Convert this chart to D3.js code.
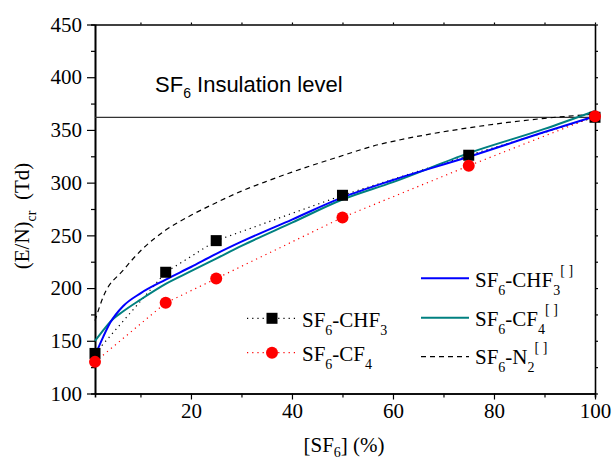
<!DOCTYPE html>
<html>
<head>
<meta charset="utf-8">
<script src="https://cdn.jsdelivr.net/npm/d3@7"></script>
<style>
  body { margin: 0; background: #fff; }
  svg { display: block; }
  text { font-family: "Liberation Serif", "Times New Roman", serif; fill: #000; }
</style>
</head>
<body>
<div id="chart"></div>
<script>
// measured points (symbols)
const measuredX = [1, 15, 25, 50, 75, 100];
const chf3Measured = [138, 215, 245, 288, 326, 362];
const cf4Measured = [130, 186, 209, 267, 316, 363];

// reference curves
const refX = [1, 2.65, 4, 6.6, 10, 15, 20, 25, 30, 40, 50, 60, 75, 90, 100];
const chf3Ref = [136, 154, 167, 183, 195, 208, 220, 232.5, 244, 265, 286, 302.5, 324.5, 348, 363];
const cf4Ref = [150, 160, 168, 178, 189, 204, 216, 228, 240, 262, 284, 300.5, 328, 351, 368];
const n2X = [1, 2.65, 6.6, 10.6, 15, 20, 25, 30, 35.7, 40, 48.6, 57.5, 61.5, 75, 90, 100];
const n2Ref = [169, 192, 217, 238, 255, 269, 281, 292, 302.5, 310, 323.5, 336.5, 340.7, 352, 361, 365];

const insulationLevel = 362;
const xTicks = [20, 40, 60, 80, 100];
const yTicks = [100, 150, 200, 250, 300, 350, 400, 450];

const width = 612, height = 460;
const margin = { top: 24.5, right: 17, bottom: 66.5, left: 95 };

const svg = d3.select("#chart").append("svg")
  .attr("width", width)
  .attr("height", height);

const x = d3.scaleLinear().domain([1, 100]).range([margin.left, width - margin.right]);
const y = d3.scaleLinear().domain([100, 450]).range([height - margin.bottom, margin.top]);

const x0 = x.range()[0], x1 = x.range()[1];
const y0 = y.range()[0], y1 = y.range()[1];

// minor ticks
const xMinor = d3.range(10, 100, 20);
const yMinor = d3.range(125, 450, 50);

// bottom axis
const bottomAxis = svg.append("g").attr("transform", `translate(0,${y0})`);
bottomAxis.call(d3.axisBottom(x).tickValues(xTicks).tickSize(6).tickPadding(4).tickSizeOuter(0));
bottomAxis.append("g").call(d3.axisBottom(x).tickValues(xMinor).tickSize(4).tickFormat(""));

// left axis
const leftAxis = svg.append("g").attr("transform", `translate(${x0},0)`);
leftAxis.call(d3.axisLeft(y).tickValues(yTicks).tickSize(8).tickPadding(5).tickSizeOuter(0));
leftAxis.append("g").call(d3.axisLeft(y).tickValues(yMinor).tickSize(4).tickFormat(""));

// top + right mirror axes
const topAxis = svg.append("g").attr("transform", `translate(0,${y1})`);
topAxis.call(d3.axisTop(x).tickValues(xTicks.concat(xMinor)).tickSize(2).tickFormat("").tickSizeOuter(0));
const rightAxis = svg.append("g").attr("transform", `translate(${x1},0)`);
rightAxis.call(d3.axisRight(y).tickValues(yTicks.concat(yMinor)).tickSize(3).tickFormat("").tickSizeOuter(0));

svg.selectAll(".domain").attr("stroke", "#000").attr("stroke-width", 1.6);
svg.selectAll(".tick line").attr("stroke", "#000").attr("stroke-width", 1.2);
svg.selectAll(".tick text")
  .style("font-family", "'Liberation Serif', serif")
  .style("font-size", "21px")
  .attr("fill", "#000");

// insulation level line
svg.append("line")
  .attr("x1", x0).attr("x2", x1)
  .attr("y1", y(insulationLevel)).attr("y2", y(insulationLevel))
  .attr("stroke", "#333").attr("stroke-width", 1.2);

const sfLabel = svg.append("text")
  .attr("x", 155).attr("y", 92)
  .style("font-family", "'Liberation Sans', Arial, sans-serif")
  .style("font-size", "22px");
sfLabel.append("tspan").text("SF");
sfLabel.append("tspan").attr("dy", 6).style("font-size", "14px").text("6");
sfLabel.append("tspan").attr("dy", -6).text(" Insulation level");

const line = d3.line().curve(d3.curveMonotoneX);

svg.append("path")
  .attr("d", line(n2X.map((d, i) => [x(d), y(n2Ref[i])])))
  .attr("fill", "none").attr("stroke", "#000").attr("stroke-width", 1.2)
  .attr("stroke-dasharray", "5,4");

svg.append("path")
  .attr("d", d3.line()(measuredX.map((d, i) => [x(d), y(chf3Measured[i])])))
  .attr("fill", "none").attr("stroke", "#000").attr("stroke-width", 1.2)
  .attr("stroke-dasharray", "1.2,4");

svg.append("path")
  .attr("d", d3.line()(measuredX.map((d, i) => [x(d), y(cf4Measured[i])])))
  .attr("fill", "none").attr("stroke", "#ff0000").attr("stroke-width", 1.2)
  .attr("stroke-dasharray", "1.2,4");

svg.append("path")
  .attr("d", line(refX.map((d, i) => [x(d), y(cf4Ref[i])])))
  .attr("fill", "none").attr("stroke", "#008080").attr("stroke-width", 2);

svg.append("path")
  .attr("d", line(refX.map((d, i) => [x(d), y(chf3Ref[i])])))
  .attr("fill", "none").attr("stroke", "#0000ff").attr("stroke-width", 2);

svg.selectAll(".sq").data(measuredX).join("rect")
  .attr("class", "sq")
  .attr("x", d => x(d) - 5.5)
  .attr("y", (d, i) => y(chf3Measured[i]) - 5.5)
  .attr("width", 11).attr("height", 11)
  .attr("fill", "#000");

svg.selectAll(".dot").data(measuredX).join("circle")
  .attr("class", "dot")
  .attr("cx", d => x(d))
  .attr("cy", (d, i) => y(cf4Measured[i]))
  .attr("r", 6)
  .attr("fill", "#ff0000");

// formula text helper: parts = [[text, level]] level: 0 normal, 1 sub, -1 sup
function formula(g, px, py, parts, size, subDrop = 8) {
  const t = g.append("text").attr("x", px).attr("y", py).style("font-size", size + "px");
  let level = 0;
  parts.forEach(([s, lv]) => {
    const offset = lv === 1 ? subDrop : lv === -1 ? -12 : 0;
    t.append("tspan")
      .attr("dy", offset - level)
      .style("font-size", lv === 0 ? size + "px" : "14px")
      .text(s);
    level = offset;
  });
  return t;
}

// left legend
const legL = svg.append("g");
[
  { yy: 318.3, base: 326.5, color: "#000", marker: "sq", parts: [["SF", 0], ["6", 1], ["-CHF", 0], ["3", 1]] },
  { yy: 352.7, base: 360.5, color: "#ff0000", marker: "dot", parts: [["SF", 0], ["6", 1], ["-CF", 0], ["4", 1]] }
].forEach(d => {
  legL.append("line").attr("x1", 247).attr("x2", 297).attr("y1", d.yy).attr("y2", d.yy)
    .attr("stroke", d.color).attr("stroke-width", 1.2).attr("stroke-dasharray", "1.2,4");
  if (d.marker === "sq") {
    legL.append("rect").attr("x", 272 - 5.5).attr("y", d.yy - 5.5).attr("width", 11).attr("height", 11).attr("fill", d.color);
  } else {
    legL.append("circle").attr("cx", 272).attr("cy", d.yy).attr("r", 6).attr("fill", d.color);
  }
  formula(legL, 302, d.base, d.parts, 21);
});

// right legend
const legR = svg.append("g");
[
  { yy: 278.3, base: 287, color: "#0000ff", w: 2, dash: null, parts: [["SF", 0], ["6", 1], ["-CHF", 0], ["3", 1], ["[ ]", -1]] },
  { yy: 317.7, base: 326, color: "#008080", w: 2, dash: null, parts: [["SF", 0], ["6", 1], ["-CF", 0], ["4", 1], ["[ ]", -1]] },
  { yy: 356.7, base: 364, color: "#000", w: 1.2, dash: "5,4", parts: [["SF", 0], ["6", 1], ["-N", 0], ["2", 1], ["[ ]", -1]] }
].forEach(d => {
  legR.append("line").attr("x1", 421).attr("x2", 469).attr("y1", d.yy).attr("y2", d.yy)
    .attr("stroke", d.color).attr("stroke-width", d.w).attr("stroke-dasharray", d.dash);
  formula(legR, 475, d.base, d.parts, 21);
});

// axis titles
formula(svg, 344, 452, [["[SF", 0], ["6", 1], ["] (%)", 0]], 21, 5).attr("text-anchor", "middle");

const yt = svg.append("text")
  .attr("transform", `translate(29,216) rotate(-90)`)
  .attr("text-anchor", "middle")
  .style("font-size", "21px");
yt.append("tspan").text("(E/N)");
yt.append("tspan").attr("dy", 7).style("font-size", "14px").text("cr");
yt.append("tspan").attr("dy", -7).text("\u00a0\u00a0(Td)");
</script>
</body>
</html>
